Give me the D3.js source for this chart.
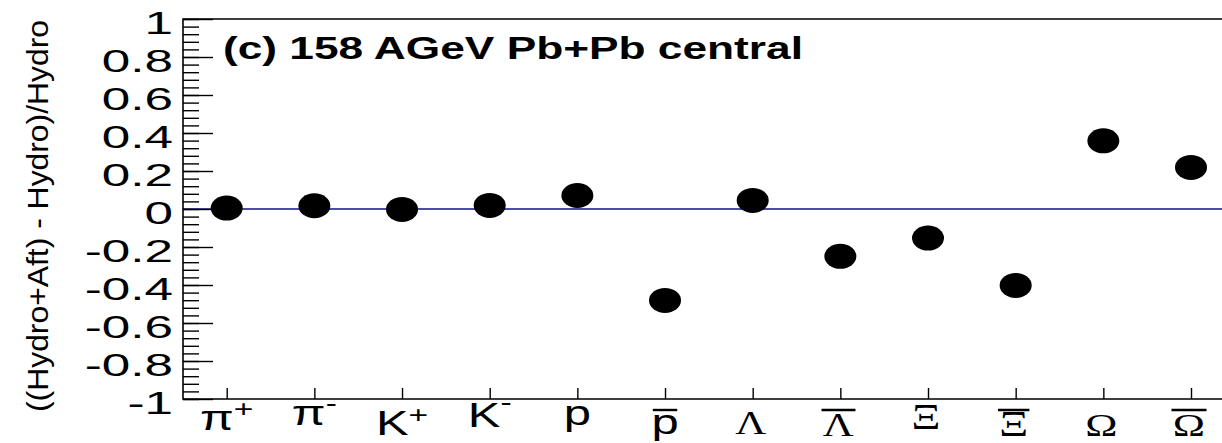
<!DOCTYPE html>
<html>
<head>
<meta charset="utf-8">
<script src="https://cdn.jsdelivr.net/npm/d3@7"></script>
<style>
  html, body { margin: 0; padding: 0; background: #fff; }
  svg { display: block; }
</style>
</head>
<body>
<svg id="chart" width="1222" height="443"></svg>
<script>
// ---- data ----
const categories = ["pi+", "pi-", "K+", "K-", "p", "pbar", "Lambda", "Lambdabar", "Xi", "Xibar", "Omega", "Omegabar"];
const labelBase = ["π", "π", "K", "K", "p", "p", "Λ", "Λ", "Ξ", "Ξ", "Ω", "Ω"];
const labelSup  = ["+", "-", "+", "-", "", "", "", "", "", "", "", ""];
const labelBar  = [false, false, false, false, false, true, false, true, false, true, false, true];
const values = [0.005, 0.017, -0.002, 0.019, 0.071, -0.481, 0.045, -0.249, -0.153, -0.402, 0.359, 0.219];
const yMajorTicks = [-1, -0.8, -0.6, -0.4, -0.2, 0, 0.2, 0.4, 0.6, 0.8, 1];
const yTickLabels = ["-1", "-0.8", "-0.6", "-0.4", "-0.2", "0", "0.2", "0.4", "0.6", "0.8", "1"];
const yMinorTicks = d3.range(0, 51).map(i => -1 + i * 0.04);
const titleText = "(c) 158 AGeV Pb+Pb central";
const yTitleText = "((Hydro+Aft) -  Hydro)/Hydro";

// ---- layout ----
const svg = d3.select("#chart");
const frameLeft = 183, frameTop = 19, frameBottom = 399, frameRight = 1240;
const SX = 1.6; // horizontal stretch of tick-label text

const x = d3.scalePoint().domain(categories).range([226.7, 1191.0]);
const y = d3.scaleLinear().domain([-1, 1]).range([frameBottom, frameTop]);

// per-label layout (baseline y, sup offset) - style only
const sansLayout = {
  "pi+": { base: 430, supDy: -13 },
  "pi-": { base: 425, supDy: -14 },
  "K+":  { base: 435, supDy: -12 },
  "K-":  { base: 427, supDy: -17 },
  "p":   { base: 425 },
  "pbar":{ base: 434, bar: 410 }
};
const serifLayout = {
  "Λ": { base: 434, barBase: 436, size: 33, sx: 1.3 },
  "Ξ": { base: 429, barBase: 436, size: 36, sx: 1.25 },
  "Ω": { base: 436, barBase: 436, size: 31, sx: 1.4 }
};
const serifBarY = 410;

// zero line
svg.append("line")
  .attr("x1", frameLeft).attr("x2", frameRight)
  .attr("y1", y(0)).attr("y2", y(0))
  .attr("stroke", "#10108c").attr("stroke-width", 1.6);

// minor y ticks
const gMinor = svg.append("g").attr("transform", `translate(${frameLeft},0)`)
  .call(d3.axisLeft(y).tickValues(yMinorTicks).tickSize(-16).tickSizeOuter(0).tickFormat(""));
gMinor.select(".domain").remove();
gMinor.selectAll("line").attr("stroke", "#000").attr("stroke-width", 1.4);

// major y ticks with labels
const gY = svg.append("g").attr("transform", `translate(${frameLeft},0)`)
  .call(d3.axisLeft(y).tickValues(yMajorTicks).tickSize(-30).tickSizeOuter(0).tickPadding(10)
    .tickFormat((d, i) => yTickLabels[i]));
gY.select(".domain").remove();
gY.selectAll("line").attr("stroke", "#000").attr("stroke-width", 1.4);
gY.selectAll("text")
  .attr("font-family", "'Liberation Sans', Arial, sans-serif")
  .attr("font-size", 32)
  .attr("fill", "#000")
  .attr("x", -10 / SX)
  .attr("dy", "0.44em")
  .attr("transform", `scale(${SX},1)`);

// x ticks
const gX = svg.append("g").attr("transform", `translate(0,${frameBottom})`)
  .call(d3.axisBottom(x).tickSize(-11).tickSizeOuter(0).tickFormat(""));
gX.select(".domain").remove();
gX.selectAll("line").attr("stroke", "#000").attr("stroke-width", 1.4);

// frame
svg.append("path")
  .attr("d", `M${frameRight},${frameTop}H${frameLeft}V${frameBottom}H${frameRight}`)
  .attr("fill", "none").attr("stroke", "#000").attr("stroke-width", 1.6);

// x labels
categories.forEach((c, i) => {
  const sl = sansLayout[c];
  if (sl) {
    const g = svg.append("g").attr("transform", `translate(${x(c)},${sl.base}) scale(1.4,1)`);
    const t = g.append("text")
      .attr("text-anchor", "middle")
      .attr("font-family", "'Liberation Sans', Arial, sans-serif")
      .attr("font-size", 35)
      .attr("fill", "#000");
    t.append("tspan").text(labelBase[i]);
    if (labelSup[i]) t.append("tspan").attr("dy", sl.supDy).attr("font-size", 24).text(labelSup[i]);
    if (labelBar[i]) {
      const bb = t.node().getBBox();
      g.append("line")
        .attr("x1", bb.x + 1).attr("x2", bb.x + bb.width - 1)
        .attr("y1", sl.bar - sl.base).attr("y2", sl.bar - sl.base)
        .attr("stroke", "#000").attr("stroke-width", 2.4);
    }
  } else {
    const L = serifLayout[labelBase[i]];
    const base = labelBar[i] ? L.barBase : L.base;
    const g = svg.append("g").attr("transform", `translate(${x(c) - 2},${base}) scale(${L.sx},1)`);
    const t = g.append("text")
      .attr("text-anchor", "middle")
      .attr("font-family", "'Liberation Serif', 'Times New Roman', serif")
      .attr("font-size", L.size)
      .attr("fill", "#000")
      .text(labelBase[i]);
    if (labelBar[i]) {
      const bb = t.node().getBBox();
      g.append("line")
        .attr("x1", bb.x - 1).attr("x2", bb.x + bb.width + 1)
        .attr("y1", serifBarY - base).attr("y2", serifBarY - base)
        .attr("stroke", "#000").attr("stroke-width", 2.4);
    }
  }
});

// markers
svg.append("g").selectAll("ellipse").data(values).join("ellipse")
  .attr("cx", (d, i) => x(categories[i]))
  .attr("cy", d => y(d))
  .attr("rx", 16).attr("ry", 12.5)
  .attr("fill", "#000");

// title
svg.append("text")
  .attr("x", 223).attr("y", 59)
  .attr("font-family", "'Liberation Sans', Arial, sans-serif")
  .attr("font-weight", "bold")
  .attr("font-size", 31)
  .attr("textLength", 580)
  .attr("lengthAdjust", "spacingAndGlyphs")
  .attr("fill", "#000")
  .text(titleText);

// y axis title
svg.append("text")
  .attr("transform", "translate(48,216) rotate(-90)")
  .attr("text-anchor", "middle")
  .attr("font-family", "'Liberation Sans', Arial, sans-serif")
  .attr("font-size", 29)
  .attr("textLength", 392)
  .attr("lengthAdjust", "spacingAndGlyphs")
  .attr("fill", "#000")
  .text(yTitleText);
</script>
</body>
</html>
